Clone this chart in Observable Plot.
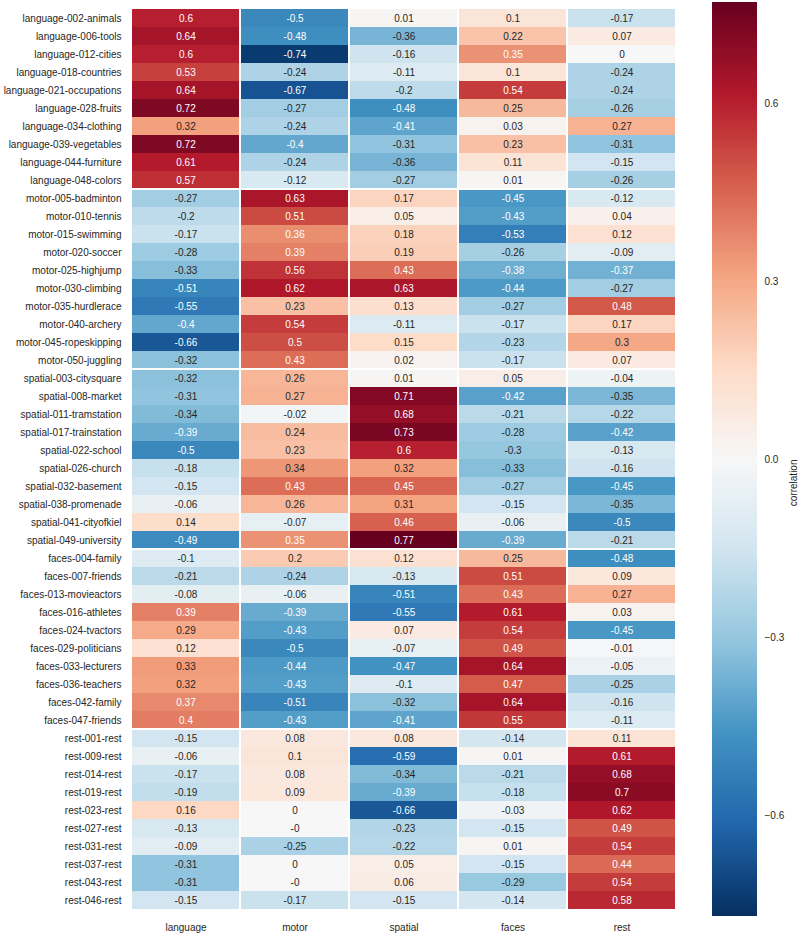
<!DOCTYPE html>
<html>
<head>
<meta charset="utf-8">
<script src="https://cdn.jsdelivr.net/npm/d3@7"></script>
<script src="https://cdn.jsdelivr.net/npm/@observablehq/plot@0.6"></script>
<style>
  html, body { margin: 0; padding: 0; background: #fff; }
  #wrap { position: relative; width: 800px; height: 935px; }
  #main { position: absolute; left: 0; top: 0; }
  #bar { position: absolute; left: 700px; top: 0; }
</style>
</head>
<body>
<div id="wrap"><div id="main"></div><div id="bar"></div></div>
<script>
const columns = ["language", "motor", "spatial", "faces", "rest"];

const rows = [
  "language-002-animals", "language-006-tools", "language-012-cities", "language-018-countries", "language-021-occupations",
  "language-028-fruits", "language-034-clothing", "language-039-vegetables", "language-044-furniture", "language-048-colors",
  "motor-005-badminton", "motor-010-tennis", "motor-015-swimming", "motor-020-soccer", "motor-025-highjump",
  "motor-030-climbing", "motor-035-hurdlerace", "motor-040-archery", "motor-045-ropeskipping", "motor-050-juggling",
  "spatial-003-citysquare", "spatial-008-market", "spatial-011-tramstation", "spatial-017-trainstation", "spatial-022-school",
  "spatial-026-church", "spatial-032-basement", "spatial-038-promenade", "spatial-041-cityofkiel", "spatial-049-university",
  "faces-004-family", "faces-007-friends", "faces-013-movieactors", "faces-016-athletes", "faces-024-tvactors",
  "faces-029-politicians", "faces-033-lecturers", "faces-036-teachers", "faces-042-family", "faces-047-friends",
  "rest-001-rest", "rest-009-rest", "rest-014-rest", "rest-019-rest", "rest-023-rest",
  "rest-027-rest", "rest-031-rest", "rest-037-rest", "rest-043-rest", "rest-046-rest"
];

const language = [
  0.6, 0.64, 0.6, 0.53, 0.64, 0.72, 0.32, 0.72, 0.61, 0.57,
  -0.27, -0.2, -0.17, -0.28, -0.33, -0.51, -0.55, -0.4, -0.66, -0.32,
  -0.32, -0.31, -0.34, -0.39, -0.5, -0.18, -0.15, -0.06, 0.14, -0.49,
  -0.1, -0.21, -0.08, 0.39, 0.29, 0.12, 0.33, 0.32, 0.37, 0.4,
  -0.15, -0.06, -0.17, -0.19, 0.16, -0.13, -0.09, -0.31, -0.31, -0.15
];
const motor = [
  -0.5, -0.48, -0.74, -0.24, -0.67, -0.27, -0.24, -0.4, -0.24, -0.12,
  0.63, 0.51, 0.36, 0.39, 0.56, 0.62, 0.23, 0.54, 0.5, 0.43,
  0.26, 0.27, -0.02, 0.24, 0.23, 0.34, 0.43, 0.26, -0.07, 0.35,
  0.2, -0.24, -0.06, -0.39, -0.43, -0.5, -0.44, -0.43, -0.51, -0.43,
  0.08, 0.1, 0.08, 0.09, 0, -0, -0.25, 0, -0, -0.17
];
const spatial = [
  0.01, -0.36, -0.16, -0.11, -0.2, -0.48, -0.41, -0.31, -0.36, -0.27,
  0.17, 0.05, 0.18, 0.19, 0.43, 0.63, 0.13, -0.11, 0.15, 0.02,
  0.01, 0.71, 0.68, 0.73, 0.6, 0.32, 0.45, 0.31, 0.46, 0.77,
  0.12, -0.13, -0.51, -0.55, 0.07, -0.07, -0.47, -0.1, -0.32, -0.41,
  0.08, -0.59, -0.34, -0.39, -0.66, -0.23, -0.22, 0.05, 0.06, -0.15
];
const faces = [
  0.1, 0.22, 0.35, 0.1, 0.54, 0.25, 0.03, 0.23, 0.11, 0.01,
  -0.45, -0.43, -0.53, -0.26, -0.38, -0.44, -0.27, -0.17, -0.23, -0.17,
  0.05, -0.42, -0.21, -0.28, -0.3, -0.33, -0.27, -0.15, -0.06, -0.39,
  0.25, 0.51, 0.43, 0.61, 0.54, 0.49, 0.64, 0.47, 0.64, 0.55,
  -0.14, 0.01, -0.21, -0.18, -0.03, -0.15, 0.01, -0.15, -0.29, -0.14
];
const rest = [
  -0.17, 0.07, 0, -0.24, -0.24, -0.26, 0.27, -0.31, -0.15, -0.26,
  -0.12, 0.04, 0.12, -0.09, -0.37, -0.27, 0.48, 0.17, 0.3, 0.07,
  -0.04, -0.35, -0.22, -0.42, -0.13, -0.16, -0.45, -0.35, -0.5, -0.21,
  -0.48, 0.09, 0.27, 0.03, -0.45, -0.01, -0.05, -0.25, -0.16, -0.11,
  0.11, 0.61, 0.68, 0.7, 0.62, 0.49, 0.54, 0.44, 0.54, 0.58
];

const colorbarTicks = [-0.6, -0.3, 0, 0.3, 0.6];
const colorbarLabel = "correlation";

// matplotlib RdBu_r control colours
const rdbuR = ["#053061", "#2166ac", "#4393c3", "#92c5de", "#d1e5f0", "#f7f7f7",
               "#fddbc7", "#f4a582", "#d6604d", "#b2182b", "#67001f"];

const series = {language, motor, spatial, faces, rest};
const groupOf = r => r.split("-")[0];

const table = [];
rows.forEach((row, i) => {
  const g = groupOf(row);
  const first = i > 0 && groupOf(rows[i - 1]) !== g;
  const last = i < rows.length - 1 && groupOf(rows[i + 1]) !== g;
  columns.forEach(col => {
    table.push({row, col, value: series[col][i], first, last});
  });
});

const m = d3.max(table, d => Math.abs(d.value));
const stops = rdbuR.map((_, i) => -m + (2 * m * i) / (rdbuR.length - 1));
const colorOpts = {type: "linear", domain: stops, range: rdbuR, clamp: true};

const cmap = d3.scaleLinear().domain(stops).range(rdbuR).interpolate(d3.interpolateRgb).clamp(true);
function luminance(c) {
  const {r, g, b} = d3.rgb(c);
  const f = v => { v /= 255; return v <= 0.03928 ? v / 12.92 : Math.pow((v + 0.055) / 1.055, 2.4); };
  return 0.2126 * f(r) + 0.7152 * f(g) + 0.0722 * f(b);
}
const isLight = d => luminance(cmap(d.value)) > 0.408;
const fmt = d => Object.is(d.value, -0) ? "-0" : String(d.value);

const FONT = "'Liberation Sans', Arial, Helvetica, sans-serif";
const INK = "#262626";
const FS = 10;

const cellBase = {x: "col", y: "row", fill: "value", insetLeft: 1, insetRight: 1, shapeRendering: "crispEdges"};

const main = Plot.plot({
  width: 700,
  height: 935,
  marginLeft: 130,
  marginRight: 23,
  marginTop: 2,
  marginBottom: 20,
  style: {fontFamily: FONT, fontSize: FS + "px", color: INK, background: "#fff", overflow: "visible"},
  x: {domain: columns, padding: 0, tickSize: 0, tickPadding: 8, label: null, axis: "bottom"},
  y: {domain: rows, padding: 0, tickSize: 0, tickPadding: 9, label: null, axis: "left"},
  color: colorOpts,
  marks: [
    Plot.cell(table.filter(d => !d.first && !d.last), cellBase),
    Plot.cell(table.filter(d => d.first), {...cellBase, insetTop: 1}),
    Plot.cell(table.filter(d => d.last), {...cellBase, insetBottom: 1}),
    Plot.text(table.filter(d => isLight(d)), {x: "col", y: "row", text: fmt, fill: INK, fontSize: FS}),
    Plot.text(table.filter(d => !isLight(d)), {x: "col", y: "row", text: fmt, fill: "#ffffff", fontSize: FS})
  ]
});
document.getElementById("main").appendChild(main);

const N = 256;
const levels = d3.range(N).map(i => ({
  y1: -m + (2 * m * i) / N,
  y2: -m + (2 * m * (i + 1)) / N,
  v: -m + (2 * m * (i + 0.5)) / N
}));

const bar = Plot.plot({
  width: 100,
  height: 935,
  marginLeft: 12,
  marginRight: 43,
  marginTop: 2,
  marginBottom: 19,
  style: {fontFamily: FONT, fontSize: FS + "px", color: INK, background: "transparent", overflow: "visible"},
  x: {domain: [0, 1], axis: null},
  y: {domain: [-m, m], axis: "right", ticks: colorbarTicks, tickFormat: d3.format(".1f"), tickSize: 0, tickPadding: 7, label: null},
  color: colorOpts,
  marks: [
    Plot.rect(levels, {x1: 0, x2: 1, y1: "y1", y2: "y2", fill: "v", shapeRendering: "crispEdges"}),
    Plot.text([colorbarLabel], {frameAnchor: "right", rotate: -90, dx: 36, fill: INK, fontSize: FS})
  ]
});
document.getElementById("bar").appendChild(bar);
</script>
</body>
</html>
